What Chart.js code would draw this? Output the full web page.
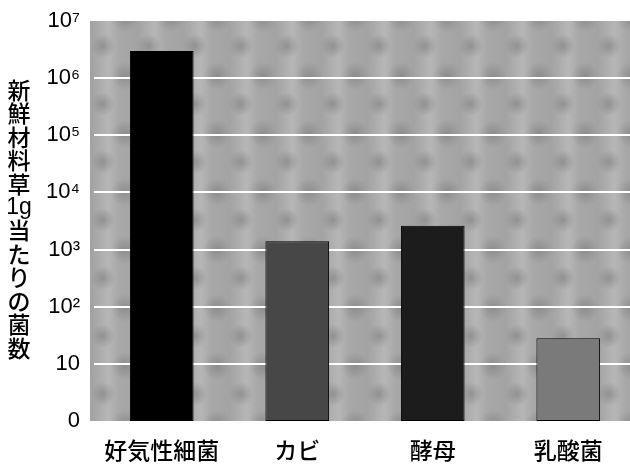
<!DOCTYPE html>
<html>
<head>
<meta charset="utf-8">
<script src="https://cdn.jsdelivr.net/npm/chart.js@4/dist/chart.umd.min.js"></script>
<style>
  html, body { margin: 0; padding: 0; background: #fff; overflow: hidden; }
  #wrap { width: 630px; height: 467px; overflow: hidden; }
</style>
</head>
<body>
<div id="wrap"><canvas id="microbeChart" width="636" height="467"></canvas></div>
<script>
const categories = ['好気性細菌', 'カビ', '酵母', '乳酸菌'];
const counts = [3.0e6, 1400, 2600, 28];
const barColors = ['#000000', '#474747', '#1c1c1c', '#7a7a7a'];
const yTickValues = [1, 10, 1e2, 1e3, 1e4, 1e5, 1e6, 1e7];
const yTickLabels = ['0', '10', '10²', '10³', '10⁴', '10⁵', '10⁶', '10⁷'];
const yTitleParts = ['新', '鮮', '材', '料', '草', '1g', '当', 'た', 'り', 'の', '菌', '数'];

// mottled gray backdrop behind the bars
function makeTexture() {
  const c = document.createElement('canvas');
  c.width = 46; c.height = 58;
  const g = c.getContext('2d');
  const grad = g.createLinearGradient(0, 0, 46, 0);
  grad.addColorStop(0, '#a3a3a3');
  grad.addColorStop(0.35, '#b6b6b6');
  grad.addColorStop(0.6, '#a8a8a8');
  grad.addColorStop(1, '#a3a3a3');
  g.fillStyle = grad;
  g.fillRect(0, 0, 46, 58);
  [[33, 18, 14], [11, 46, 12]].forEach(([x, y, r]) => {
    const rg = g.createRadialGradient(x, y, 0, x, y, r);
    rg.addColorStop(0, 'rgba(120,120,120,0.55)');
    rg.addColorStop(1, 'rgba(120,120,120,0)');
    g.fillStyle = rg;
    g.fillRect(0, 0, 46, 58);
  });
  return c;
}

const backdrop = {
  id: 'backdrop',
  beforeDraw(chart) {
    const { ctx, chartArea: a } = chart;
    ctx.save();
    ctx.fillStyle = ctx.createPattern(makeTexture(), 'repeat');
    ctx.fillRect(a.left - 4, a.top, chart.width - a.left + 4, a.bottom - a.top);
    ctx.restore();
  }
};

const verticalTitle = {
  id: 'verticalTitle',
  afterDraw(chart) {
    const ctx = chart.ctx;
    ctx.save();
    ctx.fillStyle = '#000';
    ctx.textAlign = 'center';
    ctx.textBaseline = 'middle';
    yTitleParts.forEach((t, i) => {
      ctx.font = t === '1g' ? '23px "Liberation Sans"' : '500 23px "Noto Sans CJK JP"';
      ctx.fillText(t, 19, 90 + i * 23.45);
    });
    ctx.restore();
  }
};

new Chart(document.getElementById('microbeChart').getContext('2d'), {
  type: 'bar',
  data: {
    labels: categories,
    datasets: [{
      data: counts,
      backgroundColor: barColors,
      borderColor: '#000',
      borderWidth: 1,
      borderSkipped: false,
      barPercentage: 0.47,
      categoryPercentage: 1
    }]
  },
  options: {
    responsive: false,
    animation: false,
    layout: { padding: { top: 21, right: 0, bottom: 0, left: 0 } },
    plugins: { legend: { display: false }, tooltip: { enabled: false } },
    scales: {
      x: {
        afterFit(scale) { scale.height = 46; },
        grid: { display: false, drawTicks: false },
        border: { display: false },
        ticks: { color: '#000', padding: 15, font: { family: 'Noto Sans CJK JP', size: 23, weight: 500 } }
      },
      y: {
        type: 'logarithmic',
        min: 1,
        max: 1e7,
        afterBuildTicks(scale) { scale.ticks = yTickValues.map(v => ({ value: v })); },
        afterFit(scale) {
          scale.width = 94;
          scale.paddingTop = 0;
          scale.paddingBottom = 0;
        },
        grid: {
          drawTicks: false,
          lineWidth: 2,
          color: ctx => (ctx.index === 0 || ctx.index === yTickValues.length - 1) ? 'rgba(0,0,0,0)' : '#ffffff'
        },
        border: { display: false },
        ticks: {
          color: '#000',
          padding: 14,
          autoSkip: false,
          font: { family: 'Liberation Sans', size: 22 },
          callback: (v, i) => yTickLabels[i]
        }
      }
    }
  },
  plugins: [backdrop, verticalTitle]
});
</script>
</body>
</html>
